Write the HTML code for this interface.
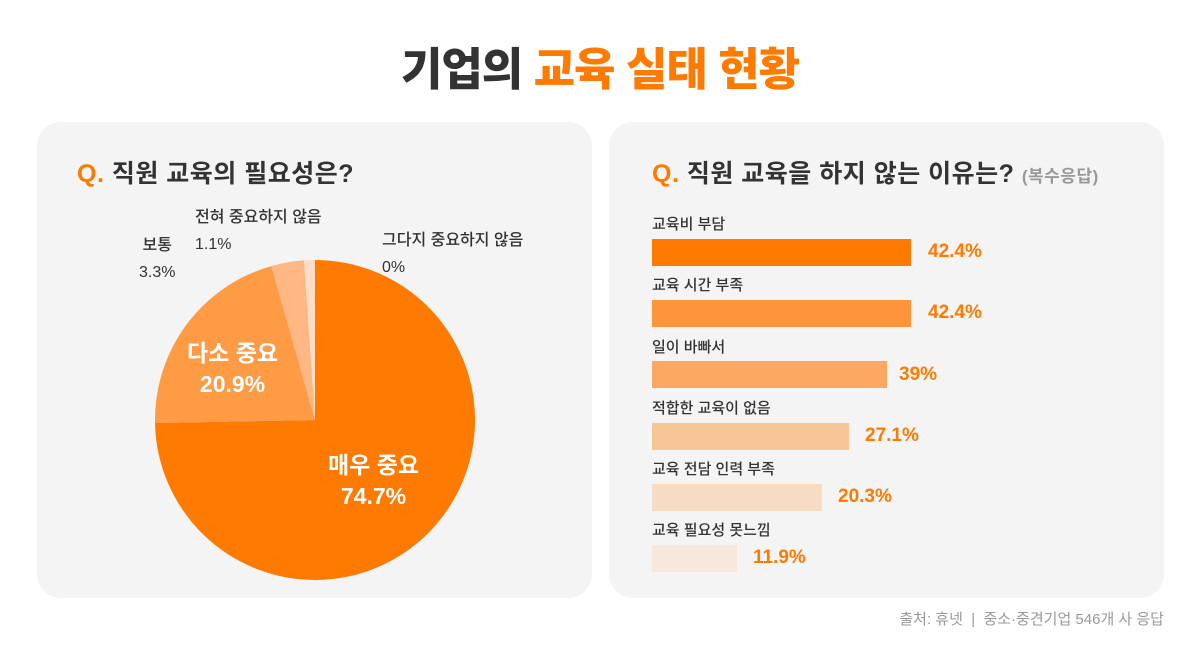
<!DOCTYPE html>
<html><head><meta charset="utf-8"><style>
body{margin:0;width:1200px;height:650px;background:#fff;font-family:"Liberation Sans","Noto Sans CJK KR",sans-serif;position:relative;overflow:hidden;color:#333}
.t{position:absolute;white-space:nowrap}
.panel{position:absolute;top:122px;height:476px;width:555px;background:#f4f4f4;border-radius:24px}
.bar{position:absolute;left:652px;height:27px}
.lab{position:absolute;left:652px;font-size:15px;font-weight:500;color:#333}
.pct{position:absolute;font-size:19px;font-weight:700;color:#ff7a00}
</style></head><body>
<div class="t" style="left:0;width:1200px;text-align:center;top:33px;font-size:45px;font-weight:900;color:#333;letter-spacing:-1px">기업의 <span style="color:#ff7a00">교육 실태 현황</span></div>
<div class="panel" style="left:37px"></div>
<div class="panel" style="left:609px"></div>
<div class="t" style="left:77px;top:154px;font-size:25px;font-weight:700;letter-spacing:0.5px"><span style="color:#ff7a00">Q.</span> 직원 교육의 필요성은?</div>
<div class="t" style="left:652px;top:154px;font-size:25px;font-weight:700;letter-spacing:0.5px"><span style="color:#ff7a00">Q.</span> 직원 교육을 하지 않는 이유는? <span style="font-size:17px;color:#999">(복수응답)</span></div>
<svg style="position:absolute;left:0;top:0" width="1200" height="650">
<path d="M315 420 L315 260 A160 160 0 1 1 155.03 423 Z" fill="#ff7a00"/>
<path d="M315 420 L155.03 423 A160 160 0 0 1 271.3 266.1 Z" fill="#ff9a45"/>
<path d="M315 420 L271.3 266.1 A160 160 0 0 1 303.95 260.4 Z" fill="#ffb783"/>
<path d="M315 420 L303.95 260.4 A160 160 0 0 1 315 260 Z" fill="#ffdcc5"/>
</svg>
<div class="t" style="left:187px;top:338px;font-size:23px;font-weight:700;color:#fff;text-align:center;line-height:31px">다소 중요<br>20.9%</div>
<div class="t" style="left:328px;top:450px;font-size:23px;font-weight:700;color:#fff;text-align:center;line-height:31px">매우 중요<br>74.7%</div>
<div class="t" style="left:139px;top:232px;font-size:16px;line-height:27px;text-align:center;font-weight:500">보통<br>3.3%</div>
<div class="t" style="left:195px;top:204px;font-size:16px;line-height:27px;font-weight:500">전혀 중요하지 않음<br>1.1%</div>
<div class="t" style="left:382px;top:227px;font-size:16px;line-height:27px;font-weight:500">그다지 중요하지 않음<br>0%</div>
<div class="lab" style="top:213px">교육비 부담</div>
<div class="bar" style="top:239px;width:259px;background:#ff7a00"></div>
<div class="pct" style="left:928px;top:241px">42.4%</div>
<div class="lab" style="top:274px">교육 시간 부족</div>
<div class="bar" style="top:300px;width:259px;background:#ff953a"></div>
<div class="pct" style="left:928px;top:302px">42.4%</div>
<div class="lab" style="top:336px">일이 바빠서</div>
<div class="bar" style="top:361px;width:235px;background:#fda862"></div>
<div class="pct" style="left:899px;top:364px">39%</div>
<div class="lab" style="top:397px">적합한 교육이 없음</div>
<div class="bar" style="top:423px;width:197px;background:#f8c597"></div>
<div class="pct" style="left:865px;top:425px">27.1%</div>
<div class="lab" style="top:458px">교육 전담 인력 부족</div>
<div class="bar" style="top:484px;width:170px;background:#f7dcc3"></div>
<div class="pct" style="left:838px;top:486px">20.3%</div>
<div class="lab" style="top:519px">교육 필요성 못느낌</div>
<div class="bar" style="top:545px;width:85px;background:#f8e8dc"></div>
<div class="pct" style="left:753px;top:547px">11.9%</div>
<div class="t" style="right:36px;top:608px;font-size:15px;color:#999">출처: 휴넷 &nbsp;|&nbsp; 중소·중견기업 546개 사 응답</div>
</body></html>
